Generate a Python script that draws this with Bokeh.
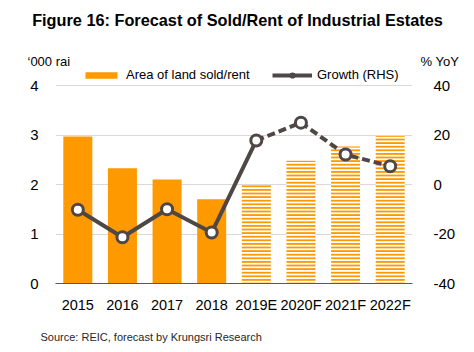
from bokeh.plotting import figure
from bokeh.models import (Range1d, LinearAxis, FixedTicker, Label, Legend, LegendItem,
                          ColumnDataSource, FactorRange, PrintfTickFormatter)
from bokeh.embed import file_html
from bokeh.resources import INLINE

years = ["2015", "2016", "2017", "2018", "2019E", "2020F", "2021F", "2022F"]
area = [2.97, 2.33, 2.10, 1.70, 1.99, 2.48, 2.77, 2.98]
growth = [-10.2, -21.3, -10.0, -19.4, 17.8, 25.0, 12.1, 7.4]
n_actual = 4
left_ticks = [0, 1, 2, 3, 4]
right_ticks = [-40, -20, 0, 20, 40]

FONT = "Liberation Sans"
ORANGE = "#FF9900"
LINE = "#4F4646"

W, H = 474, 352
FL, FR = 55, 412          # frame left / right (canvas px)
Y4, Y0 = 85, 283          # canvas y of left-axis 4 and 0
FT = 66                   # frame top (extended to hold the legend)
ppu = (Y0 - Y4) / 4.0     # px per left unit
ltop = (Y0 - FT) / ppu
rppu = (Y0 - Y4) / 80.0
rtop = -40 + (Y0 - FT) / rppu

p = figure(width=W, height=H, x_range=FactorRange(*years), y_range=Range1d(0, ltop),
           output_backend="svg", toolbar_location=None,
           min_border_left=FL, min_border_right=W - FR,
           min_border_top=FT, min_border_bottom=H - Y0)
p.extra_y_ranges = {"rhs": Range1d(-40, rtop)}
p.outline_line_color = None

act = ColumnDataSource(dict(x=years[:n_actual], top=area[:n_actual]))
fc = ColumnDataSource(dict(x=years[n_actual:], top=area[n_actual:]))
bars = p.vbar(x="x", top="top", width=0.65, source=act, fill_color=ORANGE, line_color=None)
p.vbar(x="x", top="top", width=0.65, source=fc, fill_color="white", line_color=None,
       hatch_pattern="horizontal_line", hatch_color=ORANGE, hatch_scale=3.6, hatch_weight=2)

l1 = p.line(years[:n_actual + 1], growth[:n_actual + 1], y_range_name="rhs",
            line_color=LINE, line_width=4)
p.line(years[n_actual:], growth[n_actual:], y_range_name="rhs",
       line_color=LINE, line_width=4, line_dash="8 4")
c1 = p.scatter(years, growth, y_range_name="rhs", size=11, fill_color="white",
               line_color=LINE, line_width=3)

p.xgrid.grid_line_color = None
p.ygrid.grid_line_color = "#D9D9D9"
p.ygrid.ticker = FixedTicker(ticks=left_ticks)

p.yaxis.ticker = FixedTicker(ticks=left_ticks)
rax = LinearAxis(y_range_name="rhs", ticker=FixedTicker(ticks=right_ticks),
                 formatter=PrintfTickFormatter(format="%d"))
p.add_layout(rax, "right")
for ax, so in [(p.yaxis[0], 11), (rax, 15)]:
    ax.axis_line_color = None
    ax.major_tick_line_color = None
    ax.minor_tick_line_color = None
    ax.major_label_standoff = so
    ax.major_label_text_font = FONT
    ax.major_label_text_font_size = "15px"
    ax.major_label_text_color = "#000000"

xa = p.xaxis[0]
xa.axis_line_color = "#595959"
xa.axis_line_width = 1
xa.major_tick_line_color = None
xa.minor_tick_line_color = None
xa.major_label_standoff = 7
xa.major_label_text_font = FONT
xa.major_label_text_font_size = "14.5px"
xa.major_label_text_color = "#000000"


def side_label(text, side, x, y, size, align="left", bold=False, color="#000000"):
    lab = Label(x=x, y=y, x_units="screen", y_units="screen", text=text,
                text_font=FONT, text_font_size=size, text_align=align,
                text_baseline="middle", text_color=color,
                text_font_style="bold" if bold else "normal")
    p.add_layout(lab, side)


# labels in the "above" panel stack outward, each row as tall as its text
side_label("Figure 16: Forecast of Sold/Rent of Industrial Estates", "above", 237 - FL, FT - 19,
           "16.3px", align="center", bold=True)
side_label("\u2018000 rai", "above", 27 - FL, 48 - 61, "13px")
side_label("% YoY", "above", 420 - FL, 33 - 61, "13px")
side_label("Source: REIC, forecast by Krungsri Research", "below", 40 - FL, 328 - 337, "11px",
           color="#262626")

for items, lx in [([LegendItem(label="Area of land sold/rent", renderers=[bars])], 81),
                  ([LegendItem(label="Growth (RHS)", renderers=[l1, c1])], 272)]:
    leg = Legend(items=items, location=(lx - FL, Y0 - 82), orientation="horizontal",
                 glyph_width=40, glyph_height=8, label_height=8, label_standoff=5,
                 padding=0, margin=0, spacing=0, border_line_color=None,
                 background_fill_alpha=0, label_text_font=FONT,
                 label_text_font_size="13px", label_text_color="#000000")
    p.add_layout(leg)

open("out.html", "w").write(file_html(p, INLINE))
